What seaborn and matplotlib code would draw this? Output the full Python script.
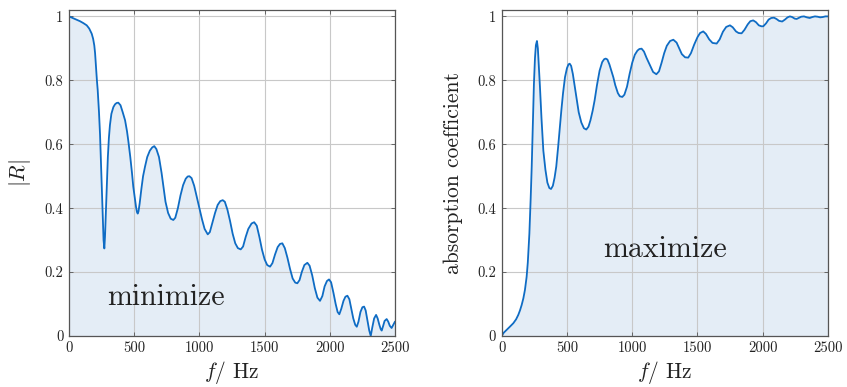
import numpy as np
import pandas as pd
import matplotlib
matplotlib.use("Agg")
import matplotlib.pyplot as plt
import seaborn as sns

# |R|
r_freq = [0, 40, 84, 110, 136, 155, 174, 185, 194, 200, 207, 214, 220, 230, 238, 246, 254, 260, 265, 271,
          276, 282, 290, 298, 306, 314, 325, 340, 353, 365, 378, 395, 412, 430, 445, 455, 470, 483, 493, 505,
          514, 521, 527, 533, 542, 555, 568, 583, 600, 620, 638, 654, 670, 690, 710, 724, 740, 760, 780, 800,
          815, 835, 855, 875, 895, 910, 923, 940, 960, 980, 1000, 1020, 1040, 1064, 1080, 1100, 1120, 1140,
          1160, 1179, 1195, 1215, 1235, 1255, 1275, 1295, 1317, 1335, 1355, 1375, 1400, 1420, 1440, 1460,
          1480, 1500, 1520, 1542, 1560, 1580, 1600, 1618, 1636, 1655, 1675, 1695, 1715, 1735, 1751, 1768,
          1785, 1805, 1828, 1845, 1865, 1885, 1905, 1925, 1943, 1960, 1978, 1994, 2010, 2028, 2045, 2060,
          2073, 2088, 2105, 2120, 2135, 2150, 2165, 2180, 2195, 2207, 2220, 2235, 2250, 2263, 2275, 2290,
          2302, 2314, 2325, 2340, 2355, 2367, 2380, 2390, 2398, 2408, 2420, 2436, 2448, 2460, 2474, 2487, 2500]
r_mag = [1.0, 0.993, 0.985, 0.979, 0.972, 0.962, 0.946, 0.93, 0.909, 0.885, 0.84, 0.80, 0.77, 0.70, 0.63,
         0.53, 0.43, 0.35, 0.30, 0.274, 0.31, 0.38, 0.48, 0.56, 0.62, 0.66, 0.695, 0.716, 0.725, 0.729, 0.73,
         0.722, 0.70, 0.675, 0.64, 0.61, 0.56, 0.51, 0.467, 0.43, 0.404, 0.388, 0.383, 0.39, 0.415, 0.46,
         0.50, 0.53, 0.56, 0.58, 0.59, 0.594, 0.585, 0.56, 0.51, 0.467, 0.42, 0.385, 0.367, 0.363, 0.37,
         0.40, 0.44, 0.472, 0.492, 0.499, 0.50, 0.494, 0.47, 0.435, 0.40, 0.365, 0.335, 0.318, 0.325, 0.355,
         0.385, 0.41, 0.422, 0.425, 0.42, 0.395, 0.36, 0.32, 0.29, 0.275, 0.271, 0.28, 0.31, 0.335, 0.352,
         0.356, 0.345, 0.31, 0.27, 0.24, 0.222, 0.217, 0.228, 0.255, 0.278, 0.288, 0.29, 0.275, 0.245, 0.21,
         0.18, 0.167, 0.165, 0.175, 0.20, 0.222, 0.229, 0.22, 0.19, 0.15, 0.12, 0.11, 0.125, 0.155, 0.172,
         0.177, 0.168, 0.135, 0.10, 0.075, 0.068, 0.085, 0.11, 0.123, 0.126, 0.115, 0.085, 0.055, 0.035,
         0.029, 0.045, 0.075, 0.09, 0.092, 0.08, 0.045, 0.018, 0.0, 0.025, 0.055, 0.066, 0.055, 0.035, 0.022,
         0.017, 0.03, 0.047, 0.053, 0.045, 0.032, 0.025, 0.035, 0.045]

# absorption coefficient
a_freq = [0, 15, 38, 60, 89, 110, 127, 140, 153, 166, 178, 191, 200, 212, 222, 230, 238, 247, 255, 262,
          270, 277, 285, 293, 305, 319, 335, 350, 365, 378, 392, 405, 418, 432, 445, 457, 470, 485, 500, 512,
          521, 532, 545, 558, 571, 590, 610, 630, 648, 665, 680, 697, 712, 730, 750, 770, 785, 797, 810, 825,
          840, 855, 870, 890, 905, 924, 940, 960, 980, 1000, 1020, 1040, 1055, 1072, 1090, 1110, 1136, 1160,
          1185, 1205, 1225, 1245, 1265, 1290, 1315, 1340, 1360, 1380, 1405, 1429, 1450, 1475, 1500, 1520,
          1544, 1565, 1590, 1615, 1647, 1670, 1695, 1720, 1749, 1770, 1795, 1815, 1838, 1860, 1885, 1905,
          1927, 1948, 1970, 1990, 2004, 2025, 2045, 2065, 2086, 2105, 2125, 2149, 2170, 2190, 2208, 2225,
          2245, 2260, 2275, 2295, 2316, 2338, 2360, 2380, 2400, 2420, 2440, 2460, 2480, 2500]
a_coef = [0.0, 0.01, 0.019, 0.028, 0.04, 0.052, 0.066, 0.08, 0.097, 0.118, 0.144, 0.185, 0.23, 0.32, 0.43,
          0.53, 0.65, 0.79, 0.87, 0.91, 0.923, 0.90, 0.84, 0.78, 0.68, 0.58, 0.52, 0.48, 0.463, 0.46, 0.47,
          0.495, 0.53, 0.59, 0.65, 0.706, 0.76, 0.81, 0.838, 0.85, 0.852, 0.845, 0.82, 0.785, 0.748, 0.70,
          0.668, 0.65, 0.646, 0.655, 0.675, 0.705, 0.7375, 0.785, 0.83, 0.857, 0.866, 0.868, 0.865, 0.85,
          0.83, 0.81, 0.785, 0.76, 0.75, 0.748, 0.755, 0.78, 0.82, 0.855, 0.88, 0.893, 0.898, 0.899, 0.89,
          0.87, 0.847, 0.826, 0.819, 0.828, 0.855, 0.885, 0.908, 0.923, 0.927, 0.918, 0.90, 0.882, 0.872,
          0.871, 0.885, 0.912, 0.935, 0.948, 0.953, 0.945, 0.928, 0.917, 0.915, 0.928, 0.952, 0.967, 0.972,
          0.966, 0.953, 0.948, 0.947, 0.958, 0.975, 0.985, 0.9875, 0.982, 0.972, 0.969, 0.969, 0.978, 0.99,
          0.995, 0.996, 0.992, 0.986, 0.984, 0.99, 0.997, 1.0, 0.998, 0.993, 0.992, 0.995, 0.999, 1.0, 0.997,
          0.995, 0.998, 1.0, 0.999, 0.997, 0.998, 1.0, 1.0]

x_ticks = [0, 500, 1000, 1500, 2000, 2500]
y_ticks = [0, 0.2, 0.4, 0.6, 0.8, 1]
y_tick_labels = ["0", "0.2", "0.4", "0.6", "0.8", "1"]

sns.set_theme(style="white")
plt.rcParams["font.family"] = ["serif"]
plt.rcParams["font.serif"] = ["cmr10", "DejaVu Serif"]
plt.rcParams["mathtext.fontset"] = "cm"
plt.rcParams["axes.unicode_minus"] = False

LINE = "#0f6cc4"
FILL = "#e4edf6"
GRID = "#c8c8c8"
SPINE = "#555555"

fig = plt.figure(figsize=(8.47, 3.87), dpi=100)
ax1 = fig.add_axes([69 / 847, 51 / 387, 326 / 847, 326 / 387])
ax2 = fig.add_axes([501.7 / 847, 51 / 387, 326.3 / 847, 326 / 387])

df_r = pd.DataFrame({"f": r_freq, "v": r_mag})
df_a = pd.DataFrame({"f": a_freq, "v": a_coef})

for ax, df, ylab, word, wx, wy, lx in [
    (ax1, df_r, r"$|R|$", "minimize", 744, 0.12, -0.11),
    (ax2, df_a, "absorption coefficient", "maximize", 1251, 0.27, -0.119),
]:
    ax.fill_between(df["f"], df["v"], 0, color=FILL, lw=0, zorder=1)
    sns.lineplot(data=df, x="f", y="v", ax=ax, color=LINE, lw=1.3, zorder=3)
    for ln in ax.lines:
        ln.set_solid_joinstyle("round")
        ln.set_solid_capstyle("round")
    ax.set_xlim(0, 2500)
    ax.set_ylim(0, 1.02)
    ax.set_xticks(x_ticks)
    ax.set_xticklabels([str(t) for t in x_ticks])
    ax.set_yticks(y_ticks)
    ax.set_yticklabels(y_tick_labels)
    ax.grid(True, color=GRID, lw=0.8, zorder=2)
    ax.set_axisbelow(False)
    for s in ax.spines.values():
        s.set_color(SPINE)
        s.set_linewidth(0.9)
        s.set_zorder(4)
    ax.tick_params(axis="both", direction="in", length=3, width=0.6, color=SPINE,
                   labelsize=10.5, labelcolor="#222222", pad=4, right=True, top=True, left=True, bottom=True)
    ax.set_xlabel(r"$f$/ Hz", fontsize=15.5, color="#222222", labelpad=3)
    ax.set_ylabel(ylab, fontsize=15.5, color="#222222")
    ax.yaxis.set_label_coords(lx, 0.5)
    ax.text(wx, wy, word, fontsize=21.5, ha="center", va="center", color="#222222", zorder=5)

fig.savefig("out.png", dpi=100)
